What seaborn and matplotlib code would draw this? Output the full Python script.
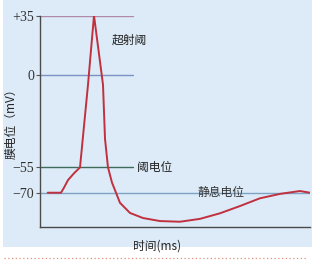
import matplotlib
matplotlib.use("Agg")
import matplotlib.pyplot as plt
from matplotlib.patches import Rectangle
from matplotlib.lines import Line2D
import seaborn as sns
import pandas as pd

# ---- data ----
time_ms = [7.7, 21, 24, 28, 34, 40, 48, 54, 63, 65, 68, 72, 76, 80, 90, 103, 120,
           140, 160, 180, 200, 220, 240, 260, 270]
potential_mv = [-70, -70, -67, -62.5, -58.5, -55, -6, 35, -6, -38, -55, -64, -70,
                -76, -82, -85, -86.8, -87.2, -85.5, -82.2, -77.9, -73.3, -70.7,
                -69, -70]
tick_values = [35, 0, -55, -70]
tick_labels = ["+35", "0", "\u221255", "\u221270"]
level_labels = ["超射阈", "阈电位", "静息电位"]
x_label = "时间(ms)"
y_label = "膜电位（mV）"

sns.set_theme(style="white")
plt.rcParams["font.family"] = ["Noto Sans CJK SC", "DejaVu Sans"]

fig = plt.figure(figsize=(3.15, 2.63), dpi=100, facecolor="white")
# light blue panel
fig.patches.append(Rectangle((0.01, 0.061), 0.98, 0.939, transform=fig.transFigure,
                             facecolor="#dcebf7", edgecolor="none", zorder=-5))
# dotted rule under the panel
fig.lines.append(Line2D([0.012, 0.975], [0.019, 0.019], transform=fig.transFigure,
                        color="#e0907c", lw=0.9, linestyle=(0, (1, 2)), zorder=-5))

ax = fig.add_axes([0.127, 0.137, 0.857, 0.804])
ax.set_zorder(2)
ax.set_facecolor("none")

df = pd.DataFrame({"t": time_ms, "v": potential_mv})

# reference levels
ax.axhline(35, xmin=0, xmax=0.344, color="#b08aa8", lw=1.0, zorder=1)
ax.axhline(0, xmin=0, xmax=0.344, color="#7d92c4", lw=1.0, zorder=1)
ax.axhline(-55, xmin=0, xmax=0.344, color="#3f6b5c", lw=1.0, zorder=1)
ax.axhline(-70, xmin=0, xmax=1.0, color="#7fa3c4", lw=1.0, zorder=1)

sns.lineplot(data=df, x="t", y="v", ax=ax, color="#c0303f", lw=1.4, zorder=3)

ax.set_xlim(0, 270)
ax.set_ylim(-90.3, 35)
ax.set_xticks([])
ax.set_yticks(tick_values)
ax.set_yticklabels(tick_labels, family=["Liberation Serif"], fontsize=10, color="#333333")
ax.tick_params(axis="y", length=3, width=0.8, color="#555555", pad=1, left=True)

for side in ["top", "right"]:
    ax.spines[side].set_visible(False)
for side in ["left", "bottom"]:
    ax.spines[side].set_color("#4a4a4a")
    ax.spines[side].set_linewidth(1.0)

ax.text(72, 20.5, level_labels[0], fontsize=8.5, color="#222222", va="center", ha="left")
ax.text(97, -55, level_labels[1], fontsize=8.5, color="#222222", va="center", ha="left")
ax.text(181, -70, level_labels[2], fontsize=8.5, color="#333333", va="center", ha="center", zorder=2)

ax.set_xlabel(x_label, fontsize=8.5, color="#222222")
ax.set_ylabel(y_label, fontsize=8.5, color="#222222")
ax.xaxis.set_label_coords(0.433, -0.06)
ax.yaxis.set_label_coords(-0.085, 0.5)

fig.savefig("out.png", dpi=100, facecolor="white")
